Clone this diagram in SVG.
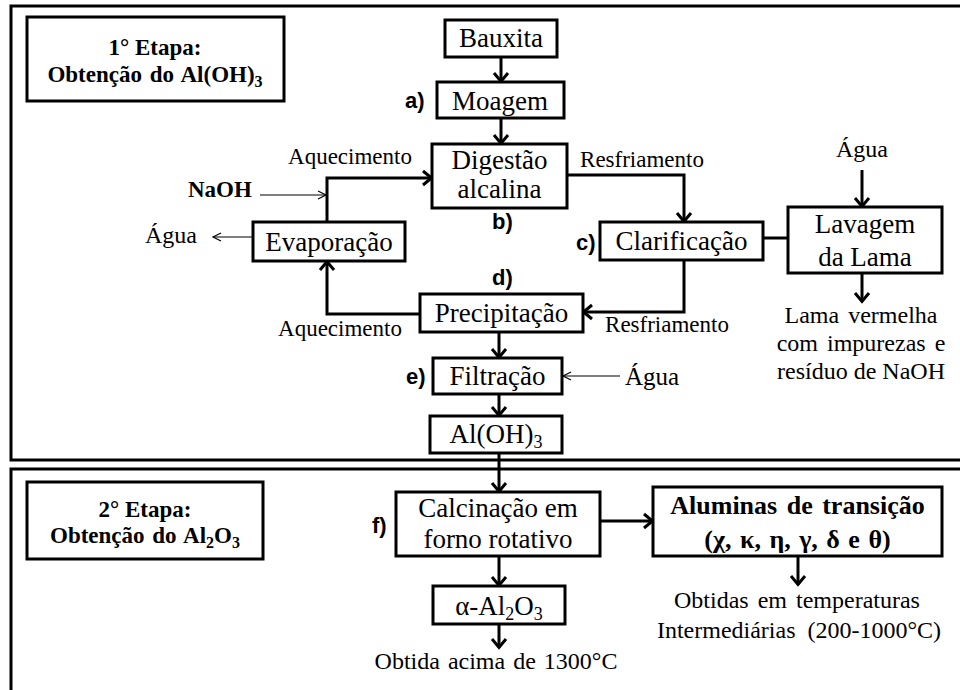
<svg xmlns="http://www.w3.org/2000/svg" width="960" height="690" viewBox="0 0 960 690">
<style>
.frame{fill:none;stroke:#000;stroke-width:3}
.box{fill:#fff;stroke:#000;stroke-width:3}
.serif{font-family:"Liberation Serif","Times New Roman",serif;fill:#000}
.bt{font-size:27px;text-anchor:middle}
.lbl{font-size:24px}
.mid{text-anchor:middle}
.ttl{font-size:23px;font-weight:bold;text-anchor:middle}
.step{font-family:"Liberation Sans",Arial,sans-serif;font-weight:bold;font-size:22px;fill:#000}
.conn{fill:none;stroke:#000;stroke-width:3}
.arr{marker-end:url(#ah)}
.thin{fill:none;stroke:#000;stroke-width:1.2;marker-end:url(#aht)}
</style>
<defs>
<marker id="ah" markerUnits="userSpaceOnUse" viewBox="0 0 12 16" refX="10" refY="8" markerWidth="12" markerHeight="16" orient="auto" overflow="visible">
<path d="M1,1 L9.5,8 L1,15" fill="none" stroke="#000" stroke-width="3"/>
</marker>
<marker id="aht" markerUnits="userSpaceOnUse" viewBox="0 0 10 10" refX="9" refY="5" markerWidth="10" markerHeight="10" orient="auto" overflow="visible">
<path d="M1,1 L9,5 L1,9" fill="none" stroke="#000" stroke-width="1.2"/>
</marker>
</defs>
<rect width="960" height="690" fill="#fff"/>
<rect class="frame" x="11" y="6" width="980" height="454"/>
<rect class="frame" x="11" y="469" width="980" height="260"/>

<g id="connectors">
<path class="conn arr" d="M501,57 V82"/>
<path class="conn arr" d="M501,118 V144"/>
<path class="conn arr" d="M327,222 V178 H432"/>
<path class="thin" d="M260,195 H326"/>
<path class="thin" d="M253,237 H213"/>
<path class="conn arr" d="M420,314 H327 V261"/>
<path class="conn arr" d="M567,175 H684 V222"/>
<path class="conn" d="M763,238 H788"/>
<path class="conn arr" d="M862,170 V207"/>
<path class="conn arr" d="M862,273 V302"/>
<path class="conn arr" d="M684,260 V312 H583"/>
<path class="conn arr" d="M499,332 V358"/>
<path class="thin" d="M620,376 H563"/>
<path class="conn arr" d="M499,394 V416"/>
<path class="conn arr" d="M499,453 V492"/>
<path class="conn arr" d="M600,521 H653"/>
<path class="conn arr" d="M798,556 V585"/>
<path class="conn arr" d="M499,556 V586"/>
<path class="conn arr" d="M499,624 V648"/>
</g>

<g id="etapa1">
<rect class="box" x="27" y="17" width="257" height="84"/>
<text class="serif ttl" x="155" y="55">1° Etapa:</text>
<text class="serif ttl" x="155" y="82" word-spacing="2">Obtenção do Al(OH)<tspan dy="5" font-size="16">3</tspan></text>
</g>

<g id="bauxita">
<rect class="box" x="445" y="20" width="112" height="37"/>
<text class="serif bt" x="501" y="47">Bauxita</text>
</g>

<g id="moagem">
<rect class="box" x="437" y="82" width="127" height="36"/>
<text class="serif bt" x="500" y="110">Moagem</text>
<text class="step" x="405" y="108">a)</text>
</g>

<g id="digestao">
<rect class="box" x="432" y="144" width="135" height="64"/>
<text class="serif bt" x="499.5" y="169">Digestão</text>
<text class="serif bt" x="499.5" y="198">alcalina</text>
<text class="step" x="492" y="229">b)</text>
</g>

<g id="evaporacao">
<rect class="box" x="253" y="222" width="152" height="39"/>
<text class="serif bt" x="329" y="251">Evaporação</text>
</g>

<g id="naoh">
<text class="serif" x="188" y="197" font-size="23" font-weight="bold">NaOH</text>
</g>
<g id="agua-evap">
<text class="serif lbl" x="145" y="243" font-size="25">Água</text>
</g>
<g id="aquecimento-labels">
<text class="serif mid" x="350" y="164" font-size="23">Aquecimento</text>
<text class="serif mid" x="340" y="336" font-size="23">Aquecimento</text>
</g>
<g id="resfriamento-labels">
<text class="serif mid" x="642" y="167" font-size="23">Resfriamento</text>
<text class="serif mid" x="667" y="332" font-size="23">Resfriamento</text>
</g>

<g id="clarificacao">
<rect class="box" x="600" y="222" width="163" height="38"/>
<text class="serif bt" x="681.5" y="250">Clarificação</text>
<text class="step" x="576" y="250">c)</text>
</g>

<g id="lavagem">
<rect class="box" x="788" y="207" width="154" height="66"/>
<text class="serif bt" x="865" y="233">Lavagem</text>
<text class="serif bt" x="865" y="266">da Lama</text>
</g>
<g id="agua-lavagem">
<text class="serif mid" x="862" y="157" font-size="24">Água</text>
</g>
<g id="lama">
<text class="serif lbl mid" x="861" y="323" word-spacing="3">Lama vermelha</text>
<text class="serif lbl mid" x="861" y="351" word-spacing="3">com impurezas e</text>
<text class="serif lbl mid" x="861" y="379">resíduo de NaOH</text>
</g>

<g id="precipitacao">
<rect class="box" x="420" y="294" width="163" height="38"/>
<text class="serif bt" x="501.5" y="322">Precipitação</text>
<text class="step" x="492" y="285">d)</text>
</g>

<g id="filtracao">
<rect class="box" x="433" y="358" width="129" height="36"/>
<text class="serif bt" x="497.5" y="385">Filtração</text>
<text class="step" x="406" y="384">e)</text>
</g>
<g id="agua-filtracao">
<text class="serif" x="625" y="385" font-size="25">Água</text>
</g>

<g id="aloh3">
<rect class="box" x="430" y="416" width="132" height="37"/>
<text class="serif bt" x="496" y="443">Al(OH)<tspan dy="5" font-size="18">3</tspan></text>
</g>

<g id="etapa2">
<rect class="box" x="27" y="482" width="236" height="77"/>
<text class="serif ttl" x="145" y="517">2° Etapa:</text>
<text class="serif ttl" x="145" y="543" word-spacing="2">Obtenção do Al<tspan dy="5" font-size="16">2</tspan><tspan dy="-5">O</tspan><tspan dy="5" font-size="16">3</tspan></text>
</g>

<g id="calcinacao">
<rect class="box" x="396" y="492" width="204" height="64"/>
<text class="serif bt" x="498" y="517">Calcinação em</text>
<text class="serif bt" x="498" y="548">forno rotativo</text>
<text class="step" x="372" y="533">f)</text>
</g>

<g id="aluminas">
<rect class="box" x="653" y="487" width="289" height="69"/>
<text class="serif mid" x="797.5" y="514" font-size="26" font-weight="bold" word-spacing="3">Aluminas de transição</text>
<text class="serif mid" x="797.5" y="548" font-size="26" font-weight="bold" word-spacing="2">(χ, κ, η, γ, δ e θ)</text>
</g>
<g id="obtidas">
<text class="serif lbl mid" x="797" y="608" word-spacing="3">Obtidas em temperaturas</text>
<text class="serif lbl mid" x="799" y="638" xml:space="preserve">Intermediárias  (200-1000°C)</text>
</g>

<g id="alpha">
<rect class="box" x="433" y="586" width="132" height="38"/>
<text class="serif bt" x="499" y="615">α-Al<tspan dy="5" font-size="18">2</tspan><tspan dy="-5">O</tspan><tspan dy="5" font-size="18">3</tspan></text>
</g>
<g id="obtida">
<text class="serif lbl mid" x="496" y="669" word-spacing="2">Obtida acima de 1300°C</text>
</g>
</svg>
